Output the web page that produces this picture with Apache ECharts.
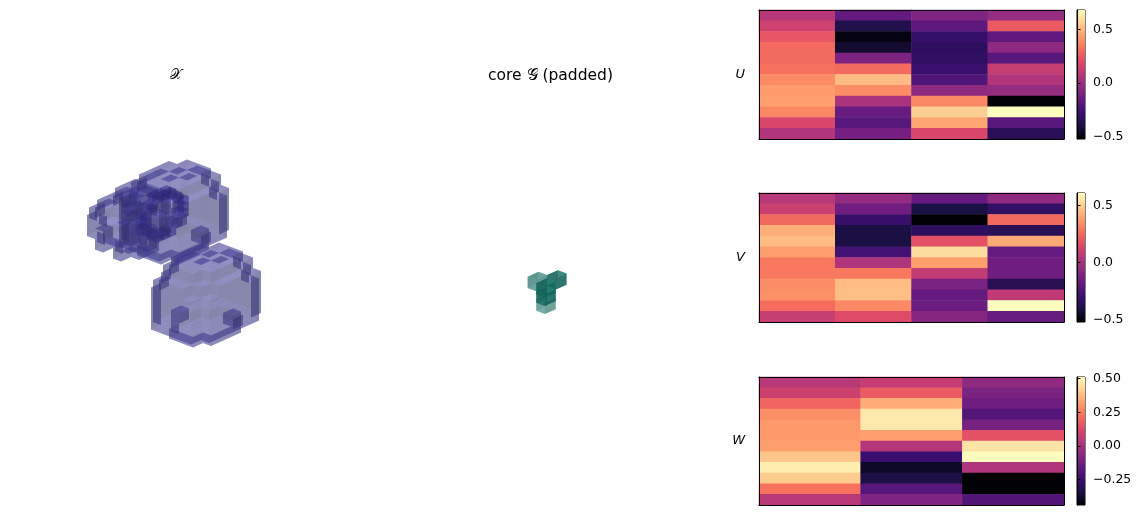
<!DOCTYPE html>
<html><head><meta charset="utf-8">
<style>html,body{margin:0;padding:0;background:#fff}#c{width:1141px;height:515px}</style>
<script src="https://cdn.jsdelivr.net/npm/echarts@6/dist/echarts.min.js"></script>
</head><body><div id="c"></div>
<script>
// ---------- factor matrices (rows top to bottom, one array per column) ----------
const U1=[.08,.15,.24,.30,.30,.32,.39,.43,.44,.38,.18,.06];
const U2=[-.16,-.38,-.50,-.44,-.09,.30,.51,.39,.04,-.15,-.20,-.11];
const U3=[-.08,-.18,-.30,-.33,-.32,-.29,-.22,-.03,.38,.56,.46,.18];
const U4=[-.02,.25,-.18,-.04,-.20,.12,.06,-.02,-.52,.68,-.20,-.35];
const V1=[.05,.10,.25,.42,.45,.38,.29,.29,.34,.35,.26,.09];
const V2=[-.05,-.15,-.31,-.41,-.41,-.27,.02,.29,.45,.46,.33,.16];
const V3=[-.18,-.41,-.52,-.34,.18,.53,.38,.08,-.12,-.18,-.16,-.09];
const V4=[-.06,-.33,.25,-.36,.41,-.18,-.15,-.15,-.37,.07,.61,-.17];
const W1=[.04,.09,.20,.29,.31,.31,.32,.40,.48,.41,.23,.04];
const W2=[.07,.18,.35,.47,.47,.32,.03,-.25,-.39,-.34,-.18,-.09];
const W3=[-.05,-.10,-.13,-.19,-.11,.15,.46,.51,.02,-.44,-.44,-.20];
const uTicks=[-.5,0,.5], vTicks=[-.5,0,.5], wTicks=[-.25,0,.25,.5];
// ---------- voxel occupancy, one list of rows per layer ----------
const c7a=[".......","..###..",".#####.",".#####.",".#####.","..###..","......."];
const c7b=["..###..",".#####.","#######","#######","#######",".#####.","..###.."];
const c7c=[".#####.","#######","#######","#######","#######","#######",".#####."];
const c7n=[".#####.","####.##","#######","#######","#######","##.####",".#####."];
const rounded7=[c7a,c7n,c7c,c7c,c7c,c7b,c7a];
const b6a=["......","..##..",".###..","..##..","......","......"];
const b6b=["..#...",".####.",".#.##.","#####.",".###..","......"];
const b6c=["..##.#","######","##.###",".#####","###.#.","..#..."];
const b6d=[".###..","#####.","######","###.##","#####.",".##.#."];
const bumpy=[b6a,b6b,b6c,b6d,b6b,b6a];
const r7=["..###..",".#...#.","#.....#","#.....#","#.....#",".#...#.","..###.."];
const ring=[r7,r7];
const coreCubes=[[0,1,2.4,.62],[1,0,2.4,.95],[0,0,2,.95],[0,0,1,1],[0,0,0,.55]];
// ---------- magma ----------
const magma=['#000004','#1b1044','#3b0f70','#641a80','#8c2981','#b73779','#de4968','#f7705c','#fe9f6d','#fecf92','#fcfdbf'];
// ---------- view set-up ----------
const E1=[10,-4.5],E2=[-8,-3],E3=[0,-10.5];
function project(x,y,z,s,o){return [o[0]+s*(x*E1[0]+y*E2[0]),o[1]+s*(x*E1[1]+y*E2[1]+z*E3[1])];}
const purple={k:'#4a44a8',i:'#3b3780',j:'#322f70',op:.36};
const shapes=[
 {layers:rounded7,o:[206,295],s:1,c:purple},
 {layers:rounded7,o:[174,212],s:1,c:purple},
 {layers:bumpy,o:[133,218],s:1,c:purple},
 {layers:ring,o:[162,214],s:.62,c:{k:'#3a2e9a',i:'#302680',j:'#2a2170',op:.38},vertical:true},
];
const FACES={
 kp:[[0,0,1],[1,0,1],[1,1,1],[0,1,1]], kn:[[0,0,0],[1,0,0],[1,1,0],[0,1,0]],
 ip:[[1,0,0],[1,1,0],[1,1,1],[1,0,1]], in:[[0,0,0],[0,1,0],[0,1,1],[0,0,1]],
 jp:[[0,1,0],[1,1,0],[1,1,1],[0,1,1]], jn:[[0,0,0],[1,0,0],[1,0,1],[0,0,1]]};
const voxelRows=[];
shapes.forEach((sh,si)=>{
  const L=sh.layers,nk=L.length,nj=L[0].length,ni=L[0][0].length;
  const has=(i,j,k)=>{ if(k<0||k>=nk||j<0||j>=nj||i<0||i>=ni)return false; return L[k][j][i]==='#'; };
  for(let k=0;k<nk;k++)for(let j=0;j<nj;j++)for(let i=0;i<ni;i++){
    if(!has(i,j,k))continue;
    const f=[];
    if(!has(i,j,k+1))f.push('kp'); if(!has(i,j,k-1))f.push('kn');
    if(!has(i+1,j,k))f.push('ip'); if(!has(i-1,j,k))f.push('in');
    if(!has(i,j+1,k))f.push('jp'); if(!has(i,j-1,k))f.push('jn');
    if(!f.length)continue;
    voxelRows.push({si,i:i-ni/2,j:sh.vertical?k-nk/2:j-nj/2,k:sh.vertical?j-nj/2:k-nk/2,f:sh.vertical?Object.keys(FACES).join(','):f.join(',')});
  }
});
voxelRows.sort((a,b)=>(b.i+b.j-b.k)-(a.i+a.j-a.k));
const voxelData=voxelRows.map(r=>[r.si,r.i,r.j,r.k,r.f]);
function faceColor(c,f){return f[0]==='k'?c.k:(f[0]==='i'?c.i:c.j);}
function renderVoxel(p,api){
  const sh=shapes[api.value(0)],i=api.value(1),j=api.value(2),k=api.value(3),fs=voxelData[p.dataIndex][4].split(',');
  return {type:'group',children:fs.filter(Boolean).map(f=>({type:'polygon',silent:true,
    shape:{points:FACES[f].map(v=>api.coord(project(i+v[0],j+v[1],k+v[2],sh.s,sh.o)))},
    style:{fill:faceColor(sh.c,f),opacity:sh.c.op}}))};
}
const teal={k:'#1f7a70',i:'#2a7f75',j:'#0f5c54'};
const coreS=1.08,coreO=[546,310];
function renderCore(p,api){
  const i=api.value(0),j=api.value(1),k=api.value(2),a=api.value(3);
  return {type:'group',children:Object.keys(FACES).map(f=>({type:'polygon',silent:true,
    shape:{points:FACES[f].map(v=>api.coord(project(i+v[0]-.5,j+v[1]-.5,k*.72+v[2],coreS,coreO)))},
    style:{fill:faceColor(teal,f),opacity:a*.7}}))};
}
const colorStops=magma.map((c,i)=>({offset:1-i/(magma.length-1),color:c}));
function renderBar(p,api){
  const a=api.coord([0,api.value(2)]),b=api.coord([1,api.value(1)]);
  return {type:'rect',silent:true,shape:{x:a[0],y:a[1],width:b[0]-a[0],height:b[1]-a[1]},
    style:{fill:{type:'linear',x:0,y:0,x2:0,y2:1,colorStops}}};
}
// ---------- panels ----------
const FONT='"DejaVu Sans"';
const panels=[
 {name:'U',cols:[U1,U2,U3,U4],min:-.523,max:.68,ticks:uTicks,top:10,h:129,fmt:v=>v.toFixed(1)},
 {name:'V',cols:[V1,V2,V3,V4],min:-.522,max:.61,ticks:vTicks,top:193,h:129,fmt:v=>v.toFixed(1)},
 {name:'W',cols:[W1,W2,W3],min:-.441,max:.513,ticks:wTicks,top:377,h:128,fmt:v=>v.toFixed(2)},
];
const grids=[{left:0,top:0,width:1141,height:515}],xAxes=[{gridIndex:0,type:'value',min:0,max:1141,show:false}],yAxes=[{gridIndex:0,type:'value',min:0,max:515,inverse:true,show:false}];
const series=[
 {type:'custom',coordinateSystem:'cartesian2d',xAxisIndex:0,yAxisIndex:0,renderItem:renderVoxel,data:voxelData,animation:false,clip:false,silent:true,encode:{x:1,y:2},progressive:0},
 {type:'custom',coordinateSystem:'cartesian2d',xAxisIndex:0,yAxisIndex:0,renderItem:renderCore,data:coreCubes,animation:false,clip:false,silent:true,encode:{x:0,y:1},progressive:0}];
const visualMaps=[];
panels.forEach(p=>{
  const gi=grids.length, rows=p.cols[0].map((_,i)=>i), cats=p.cols.map((_,i)=>i);
  const line={show:true,lineStyle:{color:'#000',width:1},onZero:false};
  grids.push({left:759,top:p.top,width:305,height:p.h});
  const bx=xAxes.length;
  xAxes.push({gridIndex:gi,type:'category',data:cats,position:'bottom',axisLine:line,axisTick:{show:false},axisLabel:{show:false},splitLine:{show:false},z:5},
             {gridIndex:gi,type:'category',data:cats,position:'top',axisLine:line,axisTick:{show:false},axisLabel:{show:false},z:5});
  const by=yAxes.length;
  yAxes.push({gridIndex:gi,type:'category',data:rows,inverse:true,position:'left',axisLine:line,axisTick:{show:false},axisLabel:{show:false},z:5,
     name:p.name,nameLocation:'middle',nameRotate:0,nameGap:14,nameTextStyle:{fontFamily:FONT,fontStyle:'italic',fontSize:13,color:'#000'}},
             {gridIndex:gi,type:'category',data:rows,inverse:true,position:'right',axisLine:line,axisTick:{show:false},axisLabel:{show:false},z:5});
  const data=[];p.cols.forEach((c,x)=>c.forEach((v,y)=>data.push([x,y,v])));
  visualMaps.push({show:false,type:'continuous',min:p.min,max:p.max,dimension:2,seriesIndex:series.length,inRange:{color:magma}});
  series.push({type:'heatmap',xAxisIndex:bx,yAxisIndex:by,data,animation:false,silent:true,itemStyle:{borderWidth:0},progressive:0});
  const gb=grids.length;
  grids.push({left:1077,top:p.top,width:8,height:p.h,show:true,borderColor:'#000',borderWidth:1,backgroundColor:'transparent'});
  const cx=xAxes.length;
  xAxes.push({gridIndex:gb,type:'value',min:0,max:1,show:false});
  const cy=yAxes.length;
  yAxes.push({gridIndex:gb,type:'value',min:p.min,max:p.max,position:'right',
    axisLine:{show:true,lineStyle:{color:'#000',width:1}},splitLine:{show:false},
    axisTick:{show:true,length:3.5,lineStyle:{color:'#000',width:1},customValues:p.ticks},
    axisLabel:{show:true,margin:8,padding:[4,0,0,0],fontFamily:FONT,fontSize:12.5,color:'#000',hideOverlap:false,showMinLabel:true,showMaxLabel:true,
      customValues:p.ticks,formatter:v=>p.fmt(v).replace('-','\u2212')},z:5});
  series.push({type:'custom',xAxisIndex:cx,yAxisIndex:cy,renderItem:renderBar,data:[[0,p.min,p.max]],animation:false,silent:true,encode:{y:[1,2]},progressive:0});
});
const chart=echarts.init(document.getElementById('c'),null,{renderer:'canvas'});
chart.setOption({
  animation:false,backgroundColor:'#fff',
  title:[
   {text:'\uD835\uDCB3',left:171,top:63,textAlign:'center',textStyle:{fontFamily:'"DejaVu Sans"',fontWeight:'normal',fontSize:14,color:'#000'}},
   {text:'core \uD835\uDCA2 (padded)',left:545.5,top:63,textAlign:'center',textStyle:{fontFamily:FONT,fontWeight:'normal',fontSize:15.5,color:'#000'}}
  ],
  grid:grids,xAxis:xAxes,yAxis:yAxes,visualMap:visualMaps,series
});
</script></body></html>
